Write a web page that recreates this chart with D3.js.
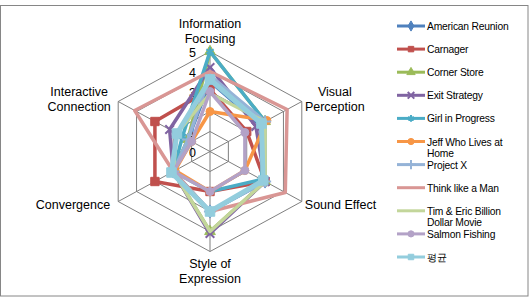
<!DOCTYPE html>
<html><head><meta charset="utf-8">
<script src="https://cdn.jsdelivr.net/npm/d3@7"></script>
<style>
html,body{margin:0;padding:0;background:#fff;}
svg{display:block;font-family:"Liberation Sans",Arial,sans-serif;}
</style></head>
<body>
<svg id="c" width="529" height="297"></svg>
<script>
// ---- data ----
const axisLabels = [["Information","Focusing"],["Visual","Perception"],["Sound  Effect"],["Style of","Expression"],["Convergence"],["Interactive","Connection"]];
const tickValues = [0,1,2,3,4,5];
const seriesNames = [["American Reunion"],["Carnager"],["Corner Store"],["Exit Strategy"],["Girl in Progress"],["Jeff Who Lives at","Home"],["Project X"],["Think like a Man"],["Tim & Eric Billion","Dollar Movie"],["Salmon Fishing"],["평균"]];
const americanReunion = [3.5, 2.7, 3.0, 3.0, 2.0, 1.2];
const carnager        = [3.1, 2.0, 3.0, 2.0, 3.0, 3.0];
const cornerStore     = [5.0, 3.0, 3.0, 4.0, 2.0, 1.2];
const exitStrategy    = [4.2, 2.5, 3.0, 4.1, 2.0, 2.2];
const girlInProgress  = [5.0, 3.0, 2.8, 2.0, 2.0, 1.5];
const jeffWhoLives    = [2.0, 3.1, 1.9, 2.0, 1.9, 1.0];
const projectX        = [3.8, 3.0, 3.0, 3.0, 2.0, 1.2];
const thinkLikeAMan   = [4.0, 4.2, 4.1, 3.0, 2.0, 4.1];
const timAndEric      = [2.9, 3.0, 3.0, 4.0, 2.0, 1.8];
const salmonFishing   = [3.0, 1.9, 1.9, 2.0, 2.0, 1.0];
const average         = [3.6, 2.8, 2.9, 3.0, 2.1, 1.8];
const seriesValues = [americanReunion, carnager, cornerStore, exitStrategy, girlInProgress, jeffWhoLives, projectX, thinkLikeAMan, timAndEric, salmonFishing, average];

// ---- styles ----
const colors = ["#4F81BD","#C0504D","#9BBB59","#8064A2","#4BACC6","#F79646","#95B3D7","#D99694","#C3D69B","#B3A2C7","#93CDDD"];
const markers = ["diamond","square","triangle","x","asterisk","circle","plus",null,null,"circle","square"];

const svg = d3.select("#c");
const cx = 210, cy = 151.5, R = 100, sx = 1.06;
const r = d3.scaleLinear().domain([0,5]).range([0,R]);
const ang = d3.scaleLinear().domain([0, axisLabels.length]).range([0, 2*Math.PI]);
const pt = (i,v) => [cx + sx*r(v)*Math.sin(ang(i)), cy - r(v)*Math.cos(ang(i))];

// border
svg.append("rect").attr("x",0.5).attr("y",5.5).attr("width",527.5).attr("height",290.5)
  .attr("fill","none").attr("stroke","#868686").attr("stroke-width",1);

// grid
const grid = svg.append("g").attr("fill","none").attr("stroke","#7f7f7f").attr("stroke-width",1);
const ringLine = d3.line().curve(d3.curveLinearClosed);
tickValues.filter(t=>t>0).forEach(t=>{
  grid.append("path").attr("d", ringLine(axisLabels.map((_,i)=>pt(i,t))));
});
axisLabels.forEach((_,i)=>{
  const p = pt(i,5);
  grid.append("line").attr("x1",cx).attr("y1",cy).attr("x2",p[0]).attr("y2",p[1]);
});

// tick labels
svg.append("g").selectAll("text").data(tickValues).join("text")
  .attr("x", cx-14).attr("y", t=>cy - r(t) + 1)
  .attr("text-anchor","end").attr("dominant-baseline","central")
  .attr("font-size",12.5).attr("fill","#000").text(t=>t);

// axis labels
const labelLayout = [
  {dx:0, dy:-20, anchor:"middle"},
  {dx:33, dy:-2, anchor:"middle"},
  {dx:3, dy:3, anchor:"start"},
  {dx:0, dy:20, anchor:"middle"},
  {dx:-8, dy:3, anchor:"end"},
  {dx:-39, dy:-2, anchor:"middle"}
];
axisLabels.forEach((lines,i)=>{
  const p = pt(i,5), L = labelLayout[i];
  const lh = 15;
  const y0 = p[1] + L.dy - (lines.length-1)*lh/2;
  const t = svg.append("text").attr("font-size",12.5).attr("fill","#000")
    .attr("text-anchor",L.anchor).attr("dominant-baseline","central");
  lines.forEach((s,k)=>t.append("tspan").attr("x",p[0]+L.dx).attr("y",y0+k*lh).text(s));
});

// symbol helper
function drawMarker(g, type, x, y, color, size){
  if(!type) return;
  const map = {diamond:d3.symbolDiamond, square:d3.symbolSquare, triangle:d3.symbolTriangle, circle:d3.symbolCircle,
               x:d3.symbolX, asterisk:d3.symbolAsterisk, plus:d3.symbolPlus};
  const stroked = (type==="x"||type==="asterisk"||type==="plus");
  const p = g.append("path").attr("d", d3.symbol().type(map[type]).size(size)())
    .attr("transform",`translate(${x},${y})`);
  if(stroked) p.attr("fill","none").attr("stroke",color).attr("stroke-width",2);
  else p.attr("fill",color).attr("stroke",color).attr("stroke-width",1);
}

// series
const lineGen = d3.line().curve(d3.curveLinearClosed);
seriesValues.forEach((vals,s)=>{
  const g = svg.append("g");
  const isAvg = s === seriesValues.length-1;
  const pts = vals.map((v,i)=>pt(i,v));
  g.append("path").attr("d", lineGen(pts)).attr("fill","none")
    .attr("stroke",colors[s]).attr("stroke-width", isAvg?5:3.5).attr("stroke-linejoin","round");
  pts.forEach(p=>drawMarker(g, markers[s], p[0], p[1], colors[s], isAvg?90:(markers[s]==="square"?70:50)));
});

// legend
const lg = svg.append("g");
const legX = 397, legY = 26, legStep = 23.1;
seriesNames.forEach((lines,s)=>{
  const y = legY + s*legStep;
  lg.append("line").attr("x1",legX).attr("x2",legX+28).attr("y1",y).attr("y2",y)
    .attr("stroke",colors[s]).attr("stroke-width",3);
  drawMarker(lg, markers[s], legX+14, y, colors[s], 30);
  const t = lg.append("text").attr("font-size",10.3).attr("fill","#000").attr("letter-spacing",-0.2)
    .attr("dominant-baseline","central");
  lines.forEach((str,k)=>t.append("tspan").attr("x",legX+30).attr("y",y+k*11).text(str));
});
</script>
</body></html>
